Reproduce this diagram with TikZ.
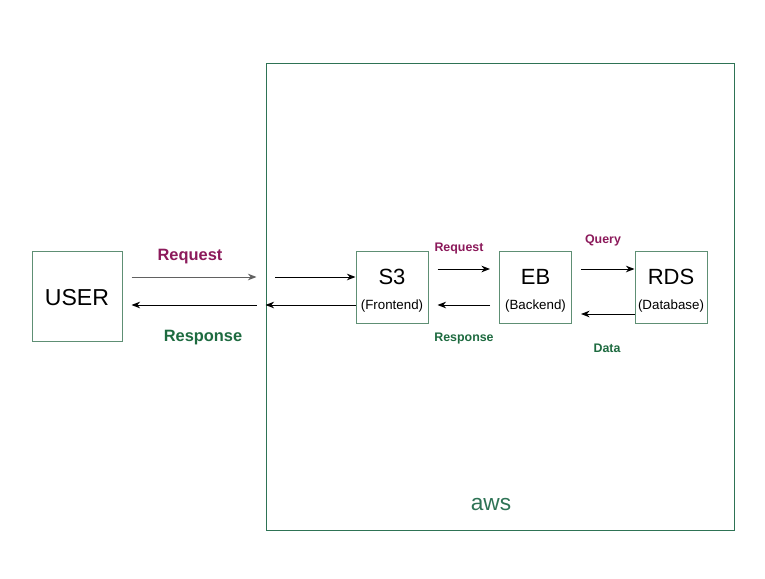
\documentclass[tikz,border=0pt]{standalone}
\usepackage{fontspec}
\setmainfont{Liberation Sans}
\usetikzlibrary{arrows.meta}
\definecolor{boxgreen}{HTML}{5E8F74}
\definecolor{awsgreen}{HTML}{2E7355}
\definecolor{reqpurple}{HTML}{8C1A5B}
\definecolor{resgreen}{HTML}{1E6B40}
\begin{document}
\begin{tikzpicture}[
        x=0.75pt, y=-0.75pt,
        box/.style={draw=boxgreen, line width=0.75pt, minimum size=54pt, inner sep=0pt},
        awsbox/.style={draw=awsgreen, line width=0.75pt, minimum width=351pt, minimum height=350.25pt, inner sep=0pt},
        title/.style={font=\fontsize{16.5}{18}\selectfont},
        sub/.style={font=\fontsize{10}{12}\selectfont},
        reqlbl/.style={text=reqpurple, font=\bfseries\fontsize{12.3}{14}\selectfont},
        reslbl/.style={text=resgreen, font=\bfseries\fontsize{12.3}{14}\selectfont},
        reqsmall/.style={text=reqpurple, font=\bfseries\fontsize{9.3}{11}\selectfont},
        ressmall/.style={text=resgreen, font=\bfseries\fontsize{9.3}{11}\selectfont},
        flow/.style={draw, line width=0.75pt, -{Stealth[length=6.5pt,width=5pt]}},
    ]
    \useasboundingbox[fill=white] (0,0) rectangle (765,579);
    % boxes
    \node[box, minimum size=67.5pt, font=\fontsize{17.3}{19}\selectfont] (user) at (77,296) {};
    \node[font=\fontsize{17.3}{19}\selectfont] (usert) at (77,297.5) {USER};
    \node[awsbox] (aws) at (500,296.5) {};
    \node[text=awsgreen, font=\fontsize{17}{19}\selectfont] (awslbl) at (491,505) {aws};
    \node[box] (s3) at (392,287) {};
    \node[box] (eb) at (535.5,287) {};
    \node[box] (rds) at (671,287) {};
    \node[title] (s3t) at (392,276.5) {S3};
    \node[sub] (s3s) at (392,306.5) {(Frontend)};
    \node[title] (ebt) at (535.5,276.5) {EB};
    \node[sub] (ebs) at (535.5,306.5) {(Backend)};
    \node[title] (rdst) at (671,276.5) {RDS};
    \node[sub] (rdss) at (671,306.5) {(Database)};
    \coordinate (in1) at (275,277);
    % user <-> aws
    \draw[flow, draw=black!62, shorten <=6.75pt, shorten >=6.75pt] (user.east |- in1) -- (aws.west |- in1);
    \draw[flow, shorten <=6.75pt, shorten >=6.75pt] (aws.west |- 0,305) -- (user.east |- 0,305);
    \node[reqlbl] (req1) at (190,257) {Request};
    \node[reslbl] (res1) at (203,338) {Response};
    % aws <-> s3
    \draw[flow] (in1) -- (s3.west |- in1);
    \draw[flow] (s3.west |- 0,305) -- (aws.west |- 0,305);
    % s3 <-> eb
    \draw[flow, shorten <=6.75pt, shorten >=6.75pt] (s3.east |- 0,269) -- (eb.west |- 0,269);
    \draw[flow, shorten <=6.75pt, shorten >=6.75pt] (eb.west |- 0,305) -- (s3.east |- 0,305);
    \node[reqsmall] (req2) at (459,249) {Request};
    \node[ressmall] (res2) at (464,339) {Response};
    % eb <-> rds
    \draw[flow, shorten <=6.75pt] (eb.east |- 0,269) -- (rds.west |- 0,269);
    \draw[flow, shorten >=6.75pt] (rds.west |- 0,314) -- (eb.east |- 0,314);
    \node[reqsmall] (qry) at (603,240) {Query};
    \node[ressmall] (dat) at (607,348) {Data};
\end{tikzpicture}
\end{document}
